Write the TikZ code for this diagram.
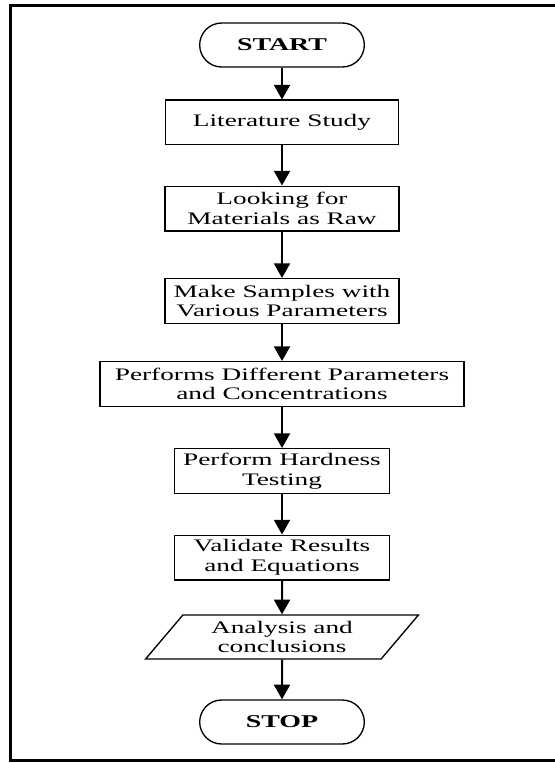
\documentclass[tikz,border=0pt]{standalone}
\usepackage{fontspec}
\setmainfont{Liberation Serif}[FakeStretch=1.55]
\usetikzlibrary{arrows.meta,shapes.geometric}

\begin{document}
\begin{tikzpicture}[x=0.75pt, y=-0.75pt,
    every node/.style={font=\fontsize{13.2}{14.8}\selectfont, align=center},
    box/.style={draw, line width=1pt, minimum height=33.5pt, inner sep=2pt},
    term/.style={draw, line width=1pt, rounded corners=16.5pt, minimum width=123.5pt,
        minimum height=33pt, font=\fontsize{13.5}{15}\selectfont\bfseries},
    io/.style={draw, line width=1pt, trapezium, trapezium left angle=52,
        trapezium right angle=128, trapezium stretches=true,
        minimum width=205pt, minimum height=33pt, inner sep=1pt},
    flow/.style={line width=1.5pt, -{Triangle[width=12pt,length=11pt]}}]

    % Page frame (right side runs off the picture)
    \clip (0,0) rectangle (555,763);
    \draw[line width=2.5pt] (10.5,5.5) rectangle (580,760.5);

    % Steps
    \node[term] (start) at (282,45) {START};
    \node[box, minimum width=174.75pt] (lit) at (282,122.5) {Literature Study};
    \node[box, minimum width=175.5pt] (look) at (282,208.5) {Looking for\\Materials as Raw};
    \node[box, minimum width=175.5pt] (samp) at (282,301) {Make Samples with\\Various Parameters};
    \node[box, minimum width=273pt] (perf) at (282,384) {Performs Different Parameters\\and Concentrations};
    \node[box, minimum width=161.25pt] (hard) at (282,471) {Perform Hardness\\Testing};
    \node[box, minimum width=161.25pt] (valid) at (282,557.5) {Validate Results\\and Equations};
    \node[io] (anal) at (282,637) {Analysis and\\conclusions};
    \node[term] (stop) at (282,722) {STOP};

    % Arrows
    \foreach \a/\b in {start/lit, lit/look, look/samp, samp/perf,
                       perf/hard, hard/valid, valid/anal, anal/stop}
        \draw[flow] (\a) -- (\b);
\end{tikzpicture}
\end{document}
